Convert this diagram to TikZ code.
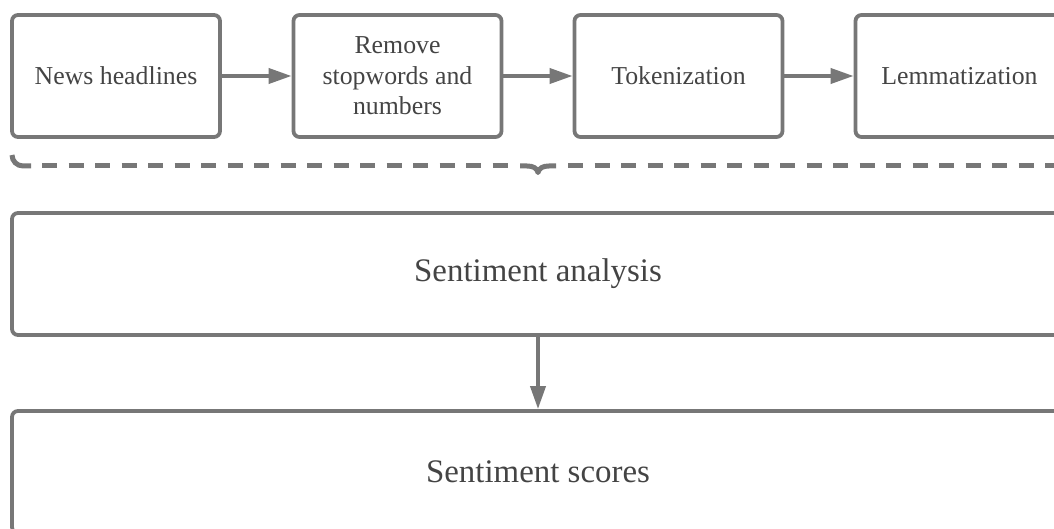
\documentclass[tikz,border=0pt]{standalone}
\usepackage{fontspec}
\setmainfont{Liberation Serif}
\usetikzlibrary{arrows.meta}
\definecolor{linegray}{HTML}{777777}
\definecolor{textgray}{HTML}{444444}
\begin{document}
\begin{tikzpicture}[x=1pt,y=-1pt,
  stepbox/.style={draw=linegray, line width=3.8pt, rounded corners=6pt, minimum width=208pt, minimum height=122pt, inner sep=0pt, text=textgray, font=\fontsize{25.8}{30.5}\selectfont, align=center},
  bigbox/.style={draw=linegray, line width=3.8pt, rounded corners=6pt, minimum width=1052pt, minimum height=122pt, inner sep=0pt, text=textgray, font=\fontsize{32.9}{38}\selectfont},
  conn/.style={draw=linegray, line width=3.8pt, -{Triangle[length=23pt,width=15pt]}},
  bracesolid/.style={draw=linegray, line width=5pt},
  bracedash/.style={draw=linegray, line width=5pt, dash pattern=on 15pt off 11.5pt}
]
\useasboundingbox (0,0) rectangle (1054,529);
\clip (0,0) rectangle (1054,529);
\node[stepbox] (n1) at (116,76) {News headlines};
\node[stepbox] (n2) at (397.5,76) {Remove\\stopwords and\\numbers};
\node[stepbox] (n3) at (678.5,76) {Tokenization};
\node[stepbox] (n4) at (959.5,76) {Lemmatization};
\node[bigbox] (sa) at (538,274) {Sentiment analysis};
\node[bigbox] (ss) at (538,472) {Sentiment scores};
\draw[conn] (n1) -- (n2);
\draw[conn] (n2) -- (n3);
\draw[conn] (n3) -- (n4);
\draw[conn] (sa) -- (ss);
% brace
\coordinate (bl) at (12,155);
\coordinate (tip) at (538,172.5);
\draw[bracesolid] (bl) arc[start angle=180, end angle=270, radius=11pt] -- (31,166);
\draw[bracedash] (42,166) -- (508,166);
\draw[bracesolid, line join=round] (520,166) -- (527,166) .. controls (533,166) and (537,168) .. (tip) .. controls (539,168) and (543,166) .. (549,166) -- (556,166);
\draw[bracedash] (568,166) -- (1070,166);
\end{tikzpicture}
\end{document}
